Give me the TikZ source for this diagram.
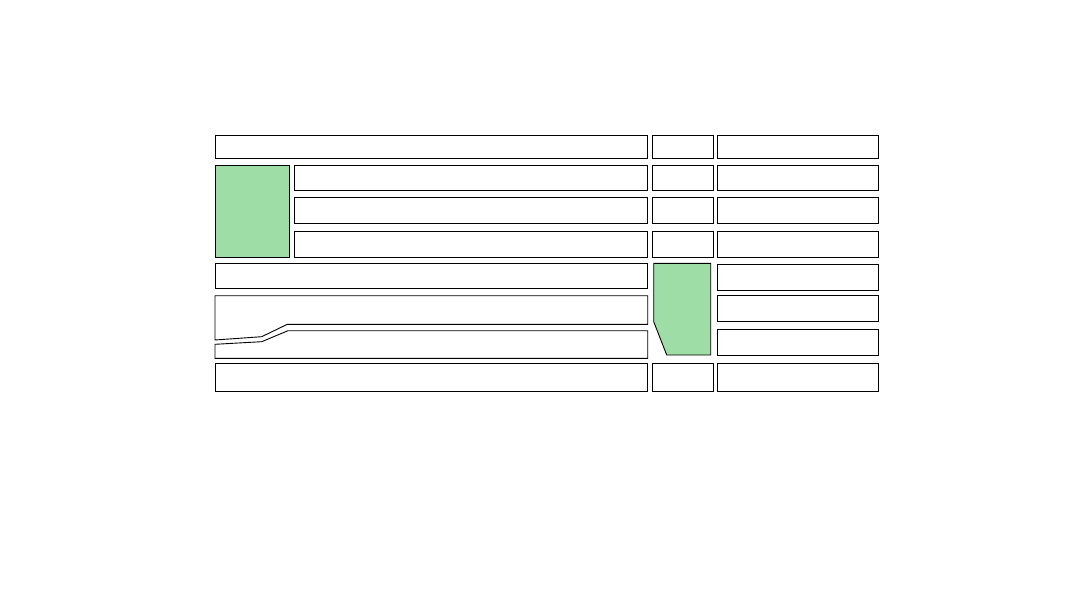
\documentclass[tikz,border=0pt]{standalone}
\usepackage{tikz}
\definecolor{parkgreen}{RGB}{158,221,165}
\tikzset{block/.style={draw=black, line width=0.9pt},
         park/.style={block, fill=parkgreen}}

\begin{document}
\begin{tikzpicture}[x=1pt,y=-1pt]
    \useasboundingbox (0,0) rectangle (1080,607);
    % --- LEFT COLUMN ---
    \draw[block] (215,135) rectangle (647.7,158.7);
    \draw[park] (215,165.7) rectangle (289.3,257.3);
    \draw[block] (294.7,165.7) rectangle (647.7,190.7);
    \draw[block] (294.7,197.7) rectangle (647.7,223.3);
    \draw[block] (294.7,231.7) rectangle (647.7,257);
    \draw[block] (215,263.3) rectangle (647.7,288.3);
    \draw[block] (215,295.7) -- (647.7,295.7) -- (647.7,324.3) -- (287.3,324.3)
        -- (261.7,336.7) -- (215,340) -- cycle;
    \draw[block] (215,344.3) -- (261.7,341.7) -- (288,330.7) -- (647.7,330.7)
        -- (647.7,358.3) -- (215,358.3) -- cycle;
    \draw[block] (215,363.3) rectangle (647.7,391.3);

    % --- MIDDLE COLUMN ---
    \foreach \ya/\yb in {135/158.7, 165.7/190.7, 197.7/223.3, 231.7/257.3, 363.3/391.3}
        \draw[block] (652.3,\ya) rectangle (713.7,\yb);
    \draw[park] (653.7,263.3) -- (710.7,263.3) -- (710.7,355) -- (666.7,355)
        -- (653.7,321.7) -- cycle;

    % --- RIGHT COLUMN ---
    \foreach \ya/\yb in {135/158.7, 165.7/190.7, 197.7/223.3, 231.7/257, 264/290,
                         295.3/321.3, 329/355, 363.3/391.3}
        \draw[block] (717.3,\ya) rectangle (878.3,\yb);
\end{tikzpicture}
\end{document}
